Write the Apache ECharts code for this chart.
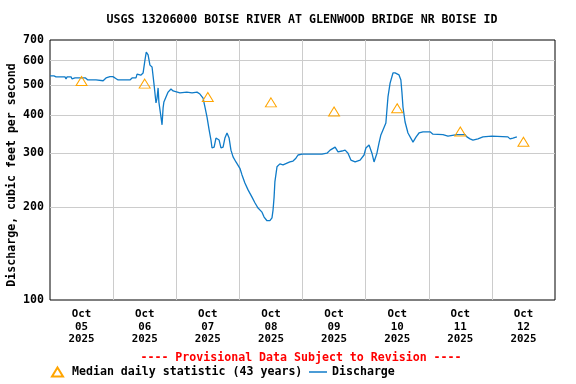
<!DOCTYPE html>
<html><head><meta charset="utf-8">
<script src="https://cdn.jsdelivr.net/npm/echarts@6/dist/echarts.min.js"></script>
<style>html,body{margin:0;padding:0;background:#fff}#c{width:576px;height:384px}</style>
</head><body><div id="c"></div>
<script>
// hours since Oct 05 2025 00:00
const hours = [0,1.5,1.9,2.3,5.7,6.1,6.5,8,8.4,9.5,13.5,14.4,17.5,18.2,20.2,21.3,22.8,23.9,24.7,25.9,30.4,31.2,32.7,33.1,34.5,35.4,36.1,36.6,37.0,37.3,38.0,38.8,39.5,40.3,40.7,41.1,41.4,42.2,42.6,43.0,43.3,44.1,44.9,46.0,46.8,47.5,49.4,52.0,54.0,55.9,57.0,58.2,58.9,59.7,60.5,61.2,61.6,62.4,63.1,63.5,64.3,65.0,65.8,66.5,67.3,68.1,68.8,69.6,70.7,72.2,73.0,74.1,75.3,76.8,77.9,79.1,80.6,81.4,82.5,83.6,84.4,84.8,85.2,85.5,86.3,87.4,88.6,89.3,91.2,92.4,93.5,94.3,95.8,98.9,103.4,105.3,106.5,108.4,109.5,111.0,112.2,113.3,114.4,116.0,116.7,117.9,119.4,120.1,121.3,122.4,123.2,123.9,124.3,125.1,125.8,126.6,127.7,128.1,128.5,129.3,130.0,130.4,131.2,131.9,132.7,133.4,133.8,134.2,135.0,136.1,137.6,138.0,139.2,140.3,141.8,144.5,145.6,149.4,151.3,154.7,157.8,158.5,159.7,160.8,162.7,164.6,168.0,168.4,174.1,174.9,176.0,177.5];
const discharge = [535,535,539,531,531,523,531,531,523,527,527,519,519,516,516,527,532,532,527,519,519,527,527,542,538,547,602,639,645,626,580,572,507,437,453,489,440,393,371,421,440,457,474,485,478,471,471,474,471,474,467,453,424,393,357,331,312,314,336,341,331,312,314,336,349,336,307,292,281,268,255,240,228,216,207,199,193,186,181,181,185,196,216,242,271,277,275,279,281,283,289,296,298,298,298,300,307,314,303,305,307,300,285,281,277,285,296,312,319,300,281,281,300,324,344,357,376,415,457,507,511,547,547,539,539,519,474,424,379,349,331,326,339,349,352,352,346,345,341,345,345,339,334,331,334,339,341,339,339,334,336,339];
const medianHours = [12,36,60,84,108,132,156,180];
const medianValues = [515,505,457,439,410,420,353,327];
const months = ['Oct','Oct','Oct','Oct','Oct','Oct','Oct','Oct'];
const days = ['05','06','07','08','09','10','11','12'];
const years = ['2025','2025','2025','2025','2025','2025','2025','2025'];
const yTicks = [100,200,300,400,500,600,700];

const FONT = 'DejaVu Sans Mono';
const LINE_COLOR = '#0f7bc8';
const chart = echarts.init(document.getElementById('c'), null, {renderer:'canvas'});
const gridLines = yTicks.map(v => ({
  yAxis: v,
  lineStyle: {color: (v === 100 || v === 700) ? 'rgba(0,0,0,0)' : '#cccccc', width: 1, type: 'solid'}
}));
const option = {
  animation: false,
  grid: {left: 50, right: 21, top: 40, bottom: 84, show: true, borderColor: '#000', borderWidth: 1, backgroundColor: 'transparent'},
  graphic: [
    {type: 'text', x: 302, y: 20, z: 10, style: {text: 'USGS 13206000 BOISE RIVER AT GLENWOOD BRIDGE NR BOISE ID', align: 'center', verticalAlign: 'middle', font: 'bold 11.6px "DejaVu Sans Mono"', fill: '#000'}},
    {type: 'text', x: 301, y: 358, z: 10, style: {text: '---- Provisional Data Subject to Revision ----', align: 'center', verticalAlign: 'middle', font: 'bold 11.6px "DejaVu Sans Mono"', fill: '#ff0000'}},
    {type: 'text', x: 12, y: 175, rotation: Math.PI / 2, z: 10, style: {text: 'Discharge, cubic feet per second', align: 'center', verticalAlign: 'middle', font: 'bold 11.6px "DejaVu Sans Mono"', fill: '#000'}}
  ],
  legend: [
    {data: ['Median daily statistic (43 years)'], left: 51, top: 366, padding: 0, itemWidth: 11, itemHeight: 9,
     textStyle: {fontFamily: FONT, fontWeight: 'bold', fontSize: 11.6, color: '#000', padding: [0, 0, 0, 4]}},
    {data: [{name: 'Discharge', icon: 'rect'}], left: 309, top: 366, padding: 0, itemWidth: 18, itemHeight: 1.5,
     textStyle: {fontFamily: FONT, fontWeight: 'bold', fontSize: 11.6, color: '#000'}}
  ],
  xAxis: [
    {type: 'value', min: 0, max: 192, interval: 12,
     axisLine: {show: false}, axisTick: {show: false}, splitLine: {show: false},
     axisLabel: {formatter: v => {
        if (v % 24 !== 12) return '';
        const i = (v - 12) / 24;
        return months[i] + '\n' + days[i] + '\n' + years[i];
      }, fontFamily: FONT, fontWeight: 'bold', fontSize: 10.8, lineHeight: 12.5, color: '#000', margin: 8}},
    {type: 'value', min: 0, max: 192, interval: 24, position: 'bottom',
     axisLine: {show: false}, axisTick: {show: false}, axisLabel: {show: false},
     splitLine: {show: true, showMinLine: false, showMaxLine: false, lineStyle: {color: '#cccccc', width: 1}}}
  ],
  yAxis: {type: 'log', logBase: 10, min: 100, max: 700,
    axisLine: {show: false}, axisTick: {show: false}, axisLabel: {show: false}, splitLine: {show: false}},
  series: [
    {name: 'Discharge', type: 'line', xAxisIndex: 0, z: 3, symbol: 'none', showSymbol: false,
     lineStyle: {color: LINE_COLOR, width: 1.3}, itemStyle: {color: LINE_COLOR},
     data: hours.map((h, i) => [h, discharge[i]]),
     markLine: {silent: true, z: 1, symbol: ['none', 'none'], animation: false,
       label: {show: true, position: 'start', distance: 6, formatter: p => String(p.value),
               fontFamily: FONT, fontWeight: 'bold', fontSize: 11.6, color: '#000'},
       emphasis: {disabled: true},
       data: gridLines}},
    {name: 'Median daily statistic (43 years)', type: 'scatter', xAxisIndex: 0, z: 5,
     symbol: 'triangle', symbolSize: [11, 9],
     itemStyle: {color: 'rgba(255,255,255,0)', borderColor: '#FFA500', borderWidth: 1, opacity: 1},
     data: medianHours.map((h, i) => [h, medianValues[i]])}
  ]
};
chart.setOption(option);
</script></body></html>
